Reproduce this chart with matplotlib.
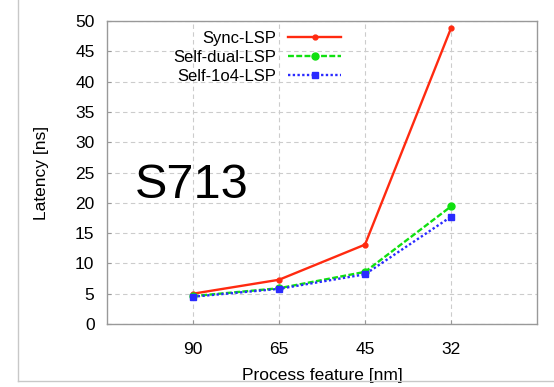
import matplotlib
matplotlib.use("Agg")
import matplotlib.pyplot as plt
from matplotlib.lines import Line2D

plt.rcParams['font.family'] = ['Liberation Sans', 'DejaVu Sans']

features = ["90", "65", "45", "32"]
sync_lsp = [5.0, 7.3, 13.1, 48.8]
self_dual_lsp = [4.6, 5.9, 8.6, 19.4]
self_1o4_lsp = [4.5, 5.8, 8.2, 17.7]
y_ticks = [0, 5, 10, 15, 20, 25, 30, 35, 40, 45, 50]

fig = plt.figure(figsize=(5.54, 3.87), dpi=100)
# outer frame lines of the figure panel
fig.add_artist(Line2D([18/554, 18/554], [6/387, 1.0], transform=fig.transFigure,
                      color='#c8c8c8', lw=1.0))
fig.add_artist(Line2D([18/554, 1.0], [6/387, 6/387], transform=fig.transFigure,
                      color='#c8c8c8', lw=1.0))

ax = fig.add_axes([107/554, 63/387, 430/554, 303/387])
x = list(range(1, len(features) + 1))

ax.plot(x, sync_lsp, color='#ff2a10', lw=1.7, marker='o', ms=3.5,
        label='Sync-LSP')
ax.plot(x, self_dual_lsp, color='#10e010', lw=1.7, ls=(0, (2.5, 1)),
        marker='o', ms=5, label='Self-dual-LSP')
ax.plot(x, self_1o4_lsp, color='#2a2aff', lw=1.7, ls=(0, (1, 1)),
        marker='s', ms=5, label='Self-1o4-LSP')

ax.set_xlim(0, 5)
ax.set_ylim(0, 50)
ax.set_xticks(x)
ax.set_xticklabels(features)
ax.set_yticks(y_ticks)
ax.tick_params(direction='in', length=3, color='#999999', labelsize=12.5)
ax.tick_params(axis='y', pad=9)
ax.tick_params(axis='x', pad=13)
for s in ax.spines.values():
    s.set_color('#999999')
    s.set_linewidth(1.0)
ax.grid(True, color='#cccccc', ls=(0, (4, 3)), lw=0.8)

ax.set_xlabel('Process feature [nm]', fontsize=12.5, labelpad=8)
ax.set_ylabel('Latency [ns]', fontsize=12.5, labelpad=19)

ax.text(0.98, 22.8, 'S713', fontsize=35, ha='center', va='center')

leg = ax.legend(loc='upper left', bbox_to_anchor=(0.12, 1.018), frameon=False,
                markerfirst=False, fontsize=12, handlelength=3.2,
                labelspacing=0.25, handletextpad=0.7)

fig.savefig('out.png', dpi=100)
